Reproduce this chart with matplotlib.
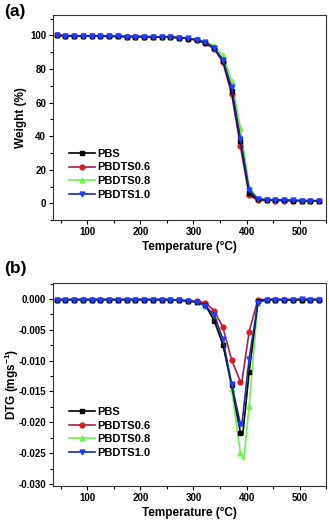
import matplotlib
matplotlib.use("Agg")
import matplotlib.pyplot as plt
from matplotlib.ticker import MultipleLocator, FormatStrFormatter

plt.rcParams["font.family"] = ["Liberation Sans", "DejaVu Sans"]
plt.rcParams["font.weight"] = "bold"
plt.rcParams["axes.unicode_minus"] = False
plt.rcParams["mathtext.fontset"] = "custom"
plt.rcParams["mathtext.rm"] = "Liberation Sans:bold"
plt.rcParams["mathtext.bf"] = "Liberation Sans:bold"
plt.rcParams["mathtext.default"] = "bf"

# temperatures at the plotted markers (deg C)
temps = [42, 58.5, 75, 91.5, 108, 124.5, 141, 157.5, 174, 190.5, 207, 223.5,
         240, 256.5, 273, 289.5, 306, 322.5, 339, 355.5, 372, 388.5, 405, 421.5,
         438, 454.5, 471, 487.5, 504, 520.5, 537]

labels = ["PBS", "PBDTS0.6", "PBDTS0.8", "PBDTS1.0"]

# ---- (a) TGA weight (%) ----
w_pbs = [100, 99.8, 99.7, 99.6, 99.5, 99.5, 99.4, 99.4, 99.3, 99.3, 99.2, 99.1,
         99.0, 98.9, 98.6, 98.1, 97.2, 95.5, 92.6, 85.0, 67.0, 37.0, 6.0, 2.4,
         2.1, 1.9, 1.8, 1.7, 1.6, 1.5, 1.5]
w_06 = [100, 99.8, 99.7, 99.6, 99.5, 99.5, 99.4, 99.4, 99.3, 99.3, 99.2, 99.1,
        99.0, 98.9, 98.6, 98.1, 97.2, 95.2, 92.0, 83.9, 65.0, 34.0, 4.8, 1.8,
        1.8, 1.7, 1.6, 1.6, 1.5, 1.5, 1.4]
w_08 = [100, 99.8, 99.7, 99.6, 99.5, 99.5, 99.4, 99.4, 99.3, 99.3, 99.2, 99.1,
        99.0, 98.9, 98.7, 98.3, 97.6, 96.2, 93.8, 88.0, 73.0, 45.0, 9.8, 2.8,
        2.3, 2.1, 1.9, 1.8, 1.7, 1.6, 1.6]
w_10 = [100, 99.8, 99.7, 99.6, 99.5, 99.5, 99.4, 99.4, 99.3, 99.3, 99.2, 99.1,
        99.0, 98.9, 98.6, 98.2, 97.4, 95.8, 92.4, 85.5, 69.0, 38.6, 7.8, 2.6,
        2.2, 2.0, 1.9, 1.8, 1.7, 1.6, 1.6]

# ---- (b) DTG (mg/s) ----
d_pbs = [-0.0001, -0.0001, -0.0001, -0.0001, -0.0001, -0.0001, -0.0001, -0.0001,
         -0.0001, -0.0001, -0.0001, -0.0001, -0.0001, -0.0001, -0.0002, -0.0003,
         -0.0005, -0.0010, -0.0035, -0.0074, -0.0140, -0.0217, -0.0118, -0.0004,
         -0.0001, -0.0001, -0.0001, -0.0002, -0.0001, -0.0001, -0.0001]
d_06 = [-0.0001, -0.0001, -0.0001, -0.0001, -0.0001, -0.0001, -0.0001, -0.0001,
        -0.0001, -0.0001, -0.0001, -0.0001, -0.0001, -0.0001, -0.0002, -0.0003,
        -0.0004, -0.0006, -0.0019, -0.0046, -0.0099, -0.0134, -0.0053, -0.0001,
        -0.0001, -0.0001, -0.0001, -0.0001, -0.0001, -0.0001, -0.0001]
d_08 = [-0.0001, -0.0001, -0.0001, -0.0001, -0.0001, -0.0001, -0.0001, -0.0001,
        -0.0001, -0.0001, -0.0001, -0.0001, -0.0001, -0.0001, -0.0002, -0.0003,
        -0.0005, -0.0012, -0.0030, -0.0070, -0.0146, -0.0250, -0.0173, -0.0006,
        -0.0001, -0.0001, -0.0001, -0.0001, -0.0001, -0.0001, 0.0000]
d_10 = [-0.0001, -0.0001, -0.0001, -0.0001, -0.0001, -0.0001, -0.0001, -0.0001,
        -0.0001, -0.0001, -0.0001, -0.0001, -0.0001, -0.0001, -0.0002, -0.0003,
        -0.0005, -0.0011, -0.0026, -0.0065, -0.0138, -0.0203, -0.0097, -0.0006,
        -0.0001, -0.0001, -0.0001, -0.0001, 0.0000, -0.0001, -0.0001]

# DTG minima, read between markers (temperature, value)
peak_pbs = (393, -0.0220)
peak_06 = (391, -0.0136)
peak_08 = (395, -0.0261)
peak_10 = (391, -0.0206)

styles = [
    dict(color="black", mfc="black", mec="black", marker="s"),
    dict(color="#a0205a", mfc="#d42020", mec="#d42020", marker="o"),
    dict(color="#70f050", mfc="#70f050", mec="#70f050", marker="^"),
    dict(color="#1c2a9a", mfc="#1f3cff", mec="#1f3cff", marker="v"),
]
zorders = [3, 2, 1, 4]


def with_peak(xs, ys, peak):
    pts = sorted(list(zip(xs, ys)) + [peak])
    px = [p[0] for p in pts]
    py = [p[1] for p in pts]
    marks = [px.index(x) for x in xs]
    return px, py, marks


def style_axes(ax, xlabel, ylabel):
    ax.set_xlim(35, 550)
    ax.xaxis.set_major_locator(MultipleLocator(100))
    ax.xaxis.set_minor_locator(MultipleLocator(50))
    ax.tick_params(which="both", direction="out", labelsize=7, width=0.8,
                   top=False, right=False, pad=2)
    ax.tick_params(which="major", length=3)
    ax.tick_params(which="minor", length=2)
    for lab in ax.get_xticklabels() + ax.get_yticklabels():
        lab.set_fontweight("bold")
    for sp in ax.spines.values():
        sp.set_linewidth(0.8)
        sp.set_color("#333333")
    ax.set_xlabel(xlabel, fontsize=8.5, fontweight="bold", labelpad=3)
    ax.set_ylabel(ylabel, fontsize=8.5, fontweight="bold", labelpad=2)


fig = plt.figure(figsize=(3.29, 5.23), dpi=100)
ax1 = fig.add_axes([0.161, 0.579, 0.830, 0.392])
ax2 = fig.add_axes([0.161, 0.071, 0.830, 0.388])

for ys, lab, st, z in zip([w_pbs, w_06, w_08, w_10], labels, styles, zorders):
    ax1.plot(temps, ys, lw=1.2, ms=3.5, label=lab, zorder=z, **st)
ax1.set_ylim(-10, 112)
ax1.yaxis.set_major_locator(MultipleLocator(20))
ax1.yaxis.set_minor_locator(MultipleLocator(10))
style_axes(ax1, "Temperature (°C)", "Weight (%)")

for ys, pk, lab, st, z in zip([d_pbs, d_06, d_08, d_10],
                              [peak_pbs, peak_06, peak_08, peak_10],
                              labels, styles, zorders):
    px, py, marks = with_peak(temps, ys, pk)
    ax2.plot(px, py, lw=1.2, ms=3.5, markevery=marks, label=lab, zorder=z, **st)
ax2.set_ylim(-0.0303, 0.0026)
ax2.yaxis.set_major_locator(MultipleLocator(0.005))
ax2.yaxis.set_minor_locator(MultipleLocator(0.0025))
ax2.yaxis.set_major_formatter(FormatStrFormatter("%.3f"))
style_axes(ax2, "Temperature (°C)", "DTG (mgs$^{-1}$)")
ax2.yaxis.set_label_coords(-0.118, 0.5)

ax1.legend(loc="upper left", bbox_to_anchor=(0.04, 0.375), frameon=False,
           prop=dict(size=8, weight="bold"), handlelength=2.3,
           handletextpad=0.2, labelspacing=0.32, borderpad=0.0)
ax2.legend(loc="upper left", bbox_to_anchor=(0.04, 0.415), frameon=False,
           prop=dict(size=8, weight="bold"), handlelength=2.3,
           handletextpad=0.2, labelspacing=0.32, borderpad=0.0)

fig.text(0.012, 0.992, "(a)", fontsize=12.5, fontweight="bold", va="top")
fig.text(0.012, 0.500, "(b)", fontsize=12.5, fontweight="bold", va="top")

fig.savefig("out.png", dpi=100)
